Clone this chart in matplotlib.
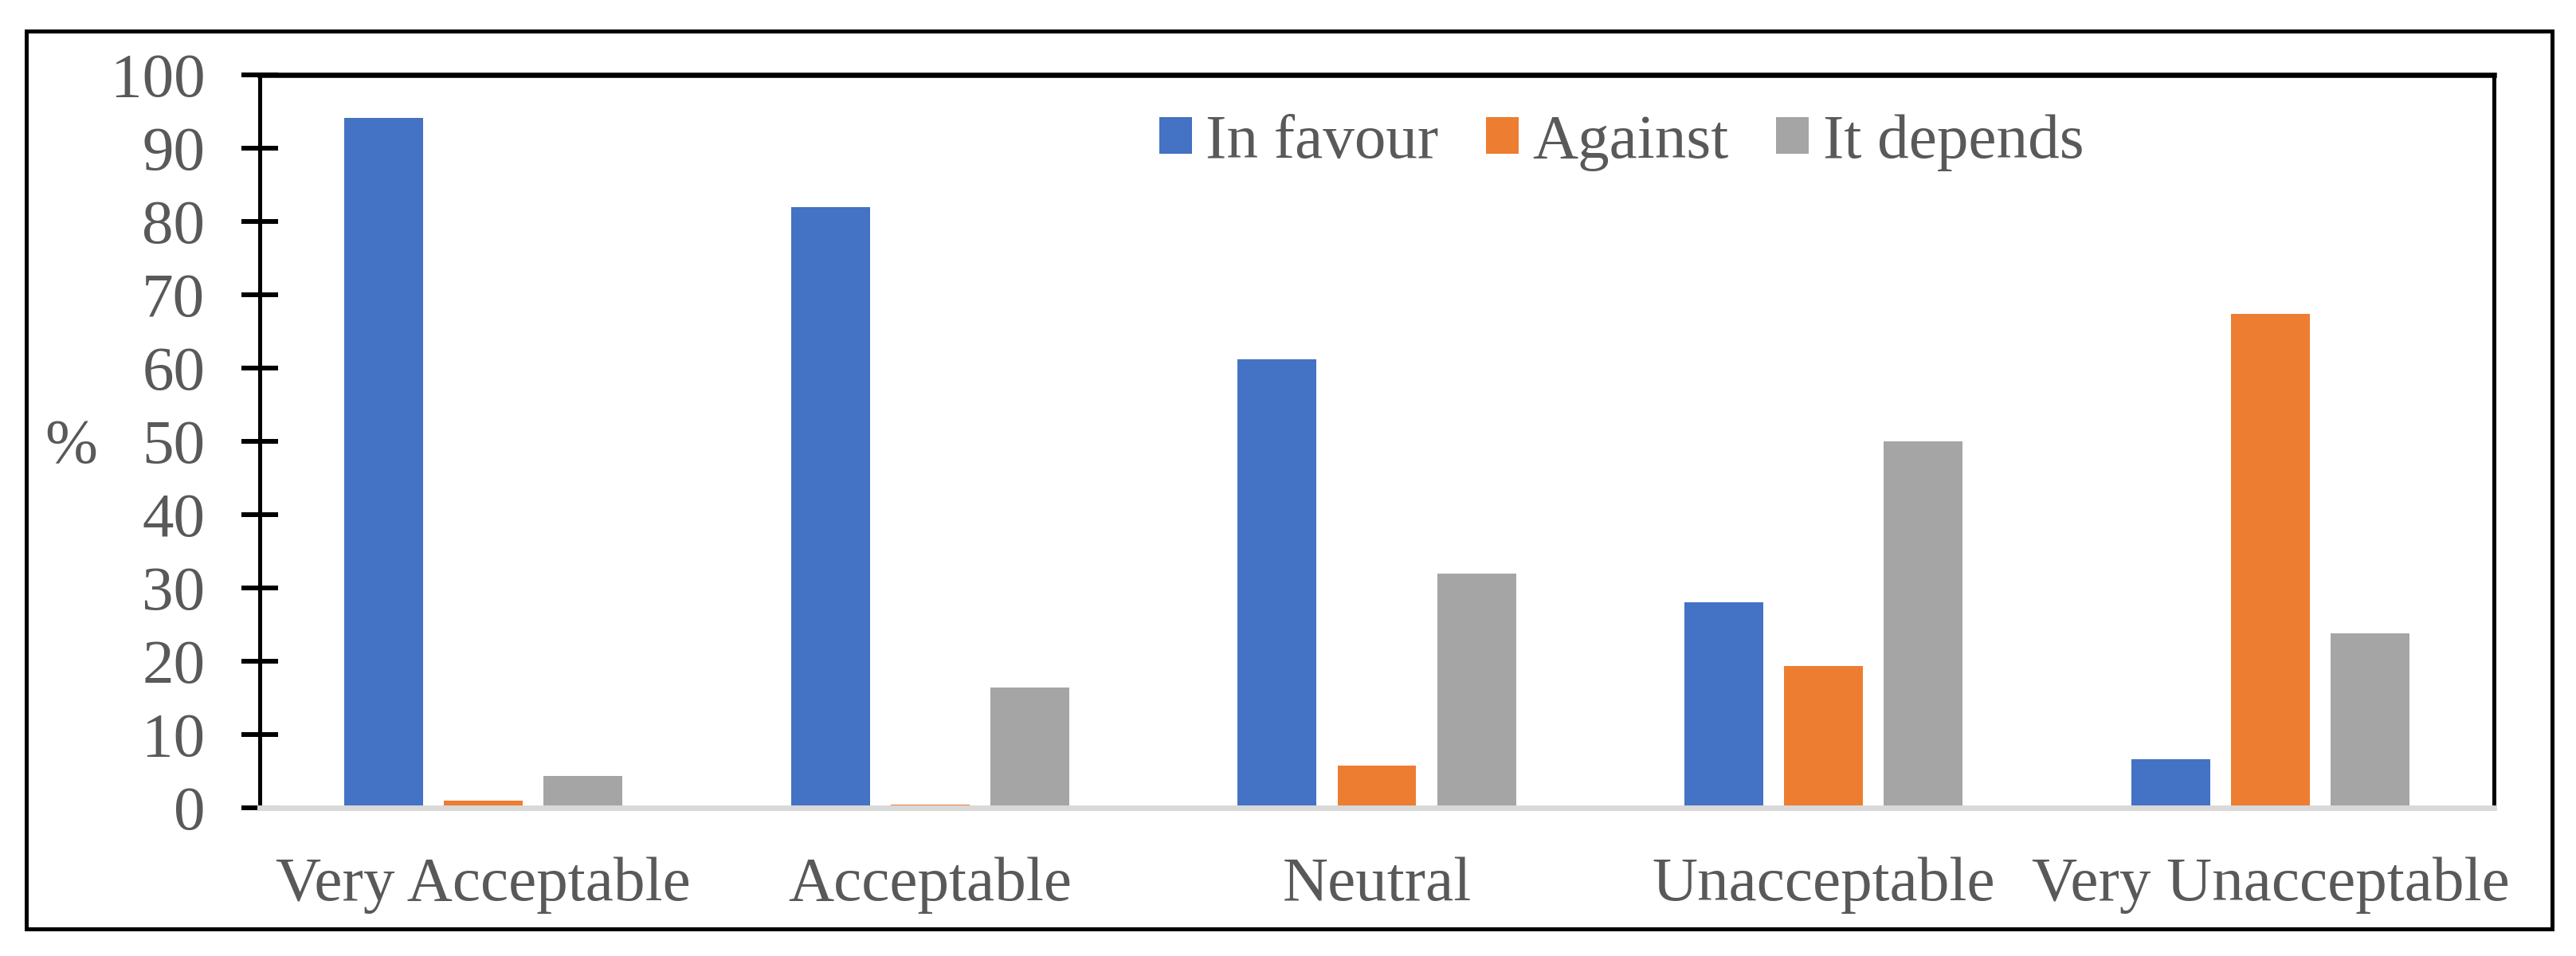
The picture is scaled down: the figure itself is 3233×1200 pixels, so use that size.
import matplotlib
matplotlib.use('Agg')
import matplotlib.pyplot as plt
import numpy as np
from matplotlib.patches import Rectangle

categories = ["Very Acceptable", "Acceptable", "Neutral", "Unacceptable", "Very Unacceptable"]
in_favour = [94.1, 82.0, 61.2, 28.0, 6.6]
against = [1.0, 0.4, 5.8, 19.4, 67.4]
it_depends = [4.4, 16.4, 32.0, 50.0, 23.8]
series_names = ["In favour", "Against", "It depends"]
colors = ["#4472C4", "#ED7D31", "#A5A5A5"]
yticks = list(range(0, 101, 10))

plt.rcParams['font.family'] = ['Liberation Serif', 'DejaVu Serif']
FS = 57
TXT = '#595959'

fig = plt.figure(figsize=(32.33, 12), dpi=100)
ax = fig.add_axes([326/3233, 1-1014/1200, 2804/3233, 920/1200])

x = np.arange(len(categories))
width = 0.1765
step = 0.223
for i, (vals, name, col) in enumerate(zip([in_favour, against, it_depends], series_names, colors)):
    ax.bar(x + (i-1)*step, vals, width, color=col, label=name, zorder=1)

ax.set_xlim(-0.5, len(categories)-0.5)
ax.set_ylim(0, 100)
ax.set_yticks(yticks)
ax.set_yticklabels([str(t) for t in yticks])
ax.set_xticks(x)
ax.set_xticklabels(categories)

ax.tick_params(axis='y', direction='inout', length=33, width=4.3, color='black',
               labelcolor=TXT, labelsize=FS, pad=33)
ax.tick_params(axis='x', length=0, labelcolor=TXT, labelsize=FS, pad=44)

ax.spines['left'].set_color('black')
ax.spines['left'].set_linewidth(3.6)
ax.spines['right'].set_color('black')
ax.spines['right'].set_linewidth(3.6)
ax.spines['top'].set_color('black')
ax.spines['top'].set_linewidth(4.7)
ax.spines['bottom'].set_color('#D9D9D9')
ax.spines['bottom'].set_linewidth(5)
ax.spines['bottom'].set_zorder(3)

fig.text(89/3233, 1-561/1200, '%', ha='center', va='center', fontsize=FS, color=TXT)

leg = ax.legend(loc='center', bbox_to_anchor=(2035/3233, 1-179/1200), bbox_transform=fig.transFigure,
                ncol=3, frameon=False, fontsize=FS, labelcolor=TXT,
                handlelength=0.52, handleheight=0.52, handletextpad=0.22,
                columnspacing=0.75, borderpad=0, borderaxespad=0)

fig.patches.append(Rectangle((33/3233, 1-1166/1200), (3203-33)/3233, (1166-39)/1200,
                             transform=fig.transFigure, fill=False, lw=3.6, ec='black'))

fig.savefig('out.png', dpi=100, facecolor='white')
